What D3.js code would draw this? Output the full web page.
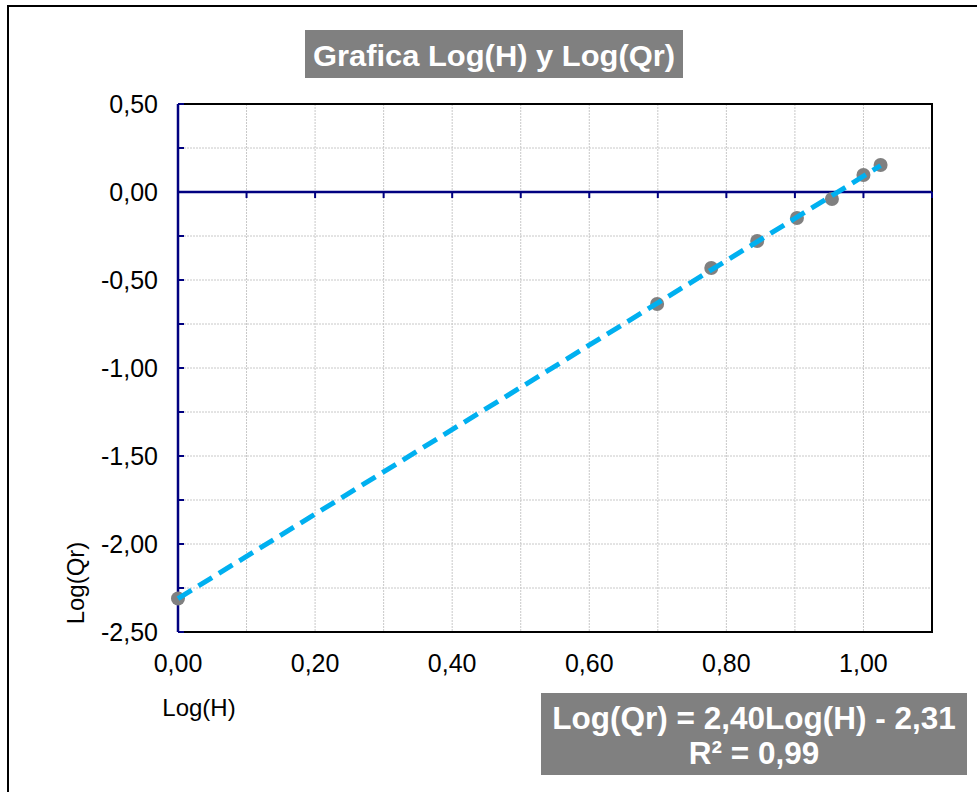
<!DOCTYPE html>
<html lang="en">
<head>
<meta charset="UTF-8">
<script src="https://d3js.org/d3.v7.min.js"></script>
<style>
  body { margin: 0; background: white; }
  text { font-family: "Liberation Sans", Arial, sans-serif; }
</style>
</head>
<body>
<div id="chart"></div>
<script>
// measured points, Log(H) vs Log(Qr)
const logH = [0.000, 0.699, 0.778, 0.845, 0.903, 0.954, 1.000, 1.025];
const logQr = [-2.31, -0.636, -0.432, -0.278, -0.148, -0.040, 0.097, 0.153];

const xTicks = [0, 0.2, 0.4, 0.6, 0.8, 1.0];
const yTicks = [0.5, 0, -0.5, -1.0, -1.5, -2.0, -2.5];
const slope = 2.40, intercept = -2.31;

const width = 977, height = 792;
const m = { left: 178, right: 932, top: 104, bottom: 632 };

const svg = d3.select("#chart").append("svg")
    .attr("width", width)
    .attr("height", height);

// outer frame
svg.append("path")
    .attr("d", `M8,${height + 5} V6 H${width + 5}`)
    .attr("fill", "none")
    .attr("stroke", "#000")
    .attr("stroke-width", 2);

const x = d3.scaleLinear().domain([0, 1.1]).range([m.left, m.right]);
const y = d3.scaleLinear().domain([-2.5, 0.5]).range([m.bottom, m.top]);

const fmt = v => d3.format(".2f")(v).replace(".", ",").replace("−", "-");

// grid
const grid = svg.append("g");
grid.selectAll(".vg")
    .data(d3.range(1, 11).map(i => i / 10))
    .enter().append("line")
    .attr("x1", d => x(d)).attr("x2", d => x(d))
    .attr("y1", m.top).attr("y2", m.bottom)
    .attr("stroke", "#c8c8c8")
    .attr("stroke-dasharray", "2,1");
grid.selectAll(".hg")
    .data(d3.range(-9, 2).map(i => i * 0.25).filter(d => d !== 0))
    .enter().append("line")
    .attr("x1", m.left).attr("x2", m.right)
    .attr("y1", d => y(d)).attr("y2", d => y(d))
    .attr("stroke", "#c8c8c8")
    .attr("stroke-dasharray", "2,1");

// plot border (top, right, bottom)
svg.append("path")
    .attr("d", `M${m.left},${m.top} H${m.right} V${m.bottom} H${m.left}`)
    .attr("fill", "none")
    .attr("stroke", "#000")
    .attr("stroke-width", 2);

// y axis (navy) with inward minor ticks
const axisColor = "#000080";
svg.append("line")
    .attr("x1", m.left).attr("x2", m.left)
    .attr("y1", m.top).attr("y2", m.bottom)
    .attr("stroke", axisColor).attr("stroke-width", 2.5);
svg.selectAll(".yt")
    .data(d3.range(-10, 3).map(i => i * 0.25))
    .enter().append("line")
    .attr("x1", m.left).attr("x2", m.left + 6)
    .attr("y1", d => y(d)).attr("y2", d => y(d))
    .attr("stroke", axisColor).attr("stroke-width", 2);

// x axis at y = 0
svg.append("line")
    .attr("x1", m.left).attr("x2", m.right)
    .attr("y1", y(0)).attr("y2", y(0))
    .attr("stroke", axisColor).attr("stroke-width", 2.5);
svg.selectAll(".xt")
    .data(d3.range(0, 12).map(i => i / 10))
    .enter().append("line")
    .attr("x1", d => x(d)).attr("x2", d => x(d))
    .attr("y1", y(0)).attr("y2", y(0) + 6)
    .attr("stroke", axisColor).attr("stroke-width", 2);

// tick labels
svg.selectAll(".yl")
    .data(yTicks)
    .enter().append("text")
    .attr("x", 158)
    .attr("y", d => y(d) + 9)
    .attr("text-anchor", "end")
    .attr("font-size", 25)
    .text(fmt);
svg.selectAll(".xl")
    .data(xTicks)
    .enter().append("text")
    .attr("x", d => x(d))
    .attr("y", 672)
    .attr("text-anchor", "middle")
    .attr("font-size", 25)
    .text(fmt);

// axis titles
svg.append("text")
    .attr("x", 199).attr("y", 716)
    .attr("text-anchor", "middle")
    .attr("font-size", 24)
    .text("Log(H)");
svg.append("text")
    .attr("transform", "translate(84,583) rotate(-90)")
    .attr("text-anchor", "middle")
    .attr("font-size", 24)
    .text("Log(Qr)");

// trend line
const xMin = d3.min(logH), xMax = d3.max(logH);

// data points
svg.selectAll(".pt")
    .data(logH.map((h, i) => [h, logQr[i]]))
    .enter().append("circle")
    .attr("cx", d => x(d[0]))
    .attr("cy", d => y(d[1]))
    .attr("r", 7)
    .attr("fill", "#808080");

// trend line drawn over points like Excel
svg.append("line")
    .attr("x1", x(xMin)).attr("y1", y(slope * xMin + intercept))
    .attr("x2", x(xMax)).attr("y2", y(slope * xMax + intercept))
    .attr("stroke", "#00B0F0")
    .attr("stroke-width", 5)
    .attr("stroke-dasharray", "16,8");

// title
svg.append("rect")
    .attr("x", 305).attr("y", 30)
    .attr("width", 378).attr("height", 48)
    .attr("fill", "#808080");
svg.append("text")
    .attr("x", 494).attr("y", 66)
    .attr("text-anchor", "middle")
    .attr("font-family", "'Open Sans', sans-serif")
    .attr("font-weight", "bold")
    .attr("font-size", 30)
    .attr("textLength", 362)
    .attr("lengthAdjust", "spacingAndGlyphs")
    .attr("fill", "white")
    .text("Grafica Log(H) y Log(Qr)");

// equation box
svg.append("rect")
    .attr("x", 541).attr("y", 693)
    .attr("width", 426).attr("height", 82)
    .attr("fill", "#808080");
svg.append("text")
    .attr("x", 754).attr("y", 729)
    .attr("text-anchor", "middle")
    .attr("font-weight", "bold")
    .attr("font-size", 31.5)
    .attr("fill", "white")
    .text("Log(Qr) = 2,40Log(H) - 2,31");
svg.append("text")
    .attr("x", 754).attr("y", 764)
    .attr("text-anchor", "middle")
    .attr("font-weight", "bold")
    .attr("font-size", 31.5)
    .attr("fill", "white")
    .text("R² = 0,99");
</script>
</body>
</html>
